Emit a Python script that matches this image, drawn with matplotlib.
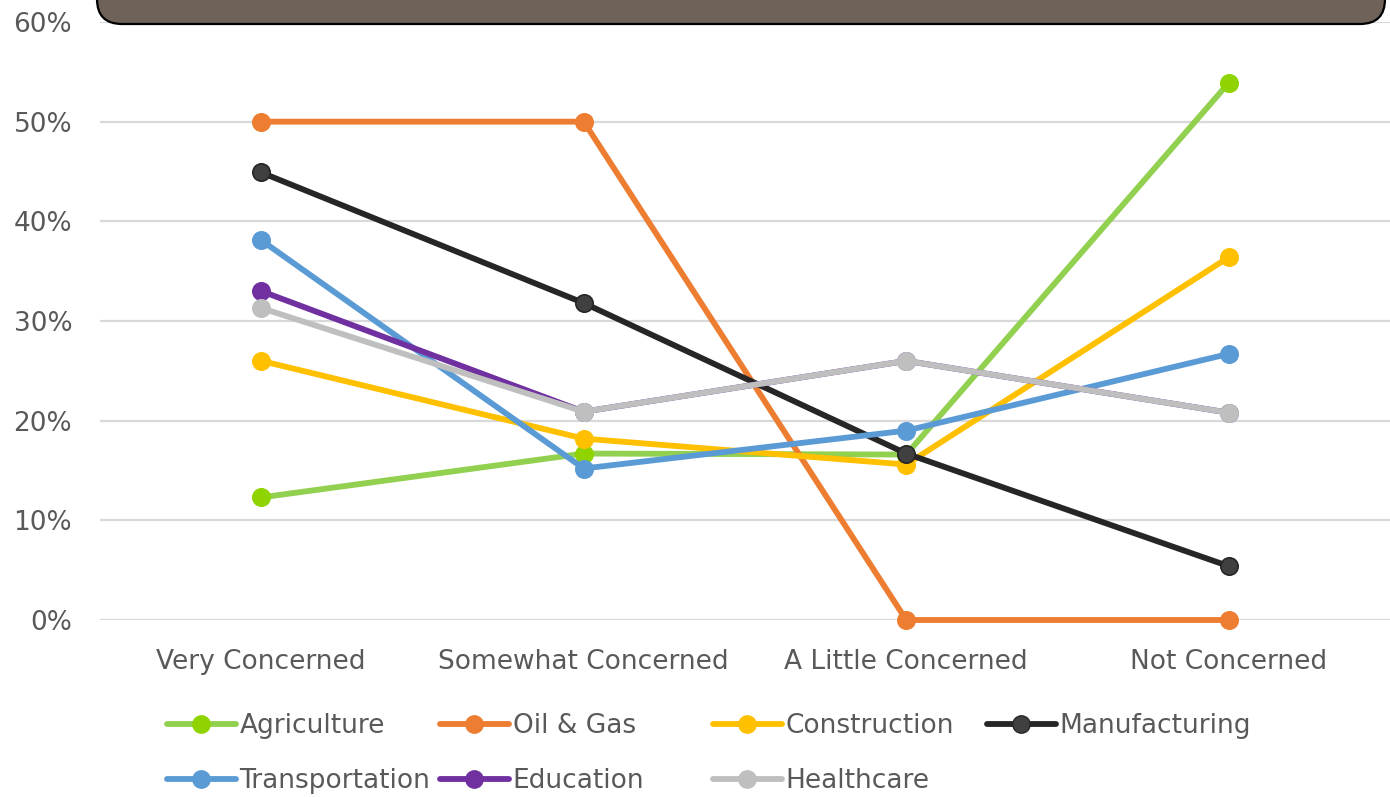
import matplotlib
matplotlib.use("Agg")
import matplotlib.pyplot as plt
from matplotlib.patches import FancyBboxPatch
from matplotlib.lines import Line2D
from matplotlib.ticker import PercentFormatter

categories = ["Very Concerned", "Somewhat Concerned", "A Little Concerned", "Not Concerned"]
agriculture = [12.3, 16.7, 16.6, 53.9]
oil_gas = [50.0, 50.0, 0.0, 0.0]
construction = [26.0, 18.2, 15.6, 36.4]
manufacturing = [44.9, 31.8, 16.7, 5.4]
transportation = [38.1, 15.2, 19.0, 26.7]
education = [33.0, 20.9, 26.0, 20.8]
healthcare = [31.3, 20.9, 26.0, 20.8]

series_names = ["Agriculture", "Oil & Gas", "Construction", "Manufacturing",
                "Transportation", "Education", "Healthcare"]
series_values = [agriculture, oil_gas, construction, manufacturing,
                 transportation, education, healthcare]
line_colors = ["#92D050", "#ED7D31", "#FFC000", "#262626", "#5B9BD5", "#7030A0", "#BFBFBF"]
marker_colors = ["#8FD400", "#ED7D31", "#FFC000", "#404040", "#5B9BD5", "#7030A0", "#BFBFBF"]
marker_edges = ["#8FD400", "#ED7D31", "#FFC000", "#262626", "#5B9BD5", "#7030A0", "#BFBFBF"]

FS = 19
LW = 4.2
MS = 12.5

W, H = 1390, 797
fig = plt.figure(figsize=(W / 100, H / 100), dpi=100)
fig.patch.set_facecolor("white")

ax = fig.add_axes([100 / W, 1 - 620 / H, 1290 / W, (620 - 22) / H])
ax.set_facecolor("white")

x = list(range(len(categories)))
for name, vals, lc, mc, me in zip(series_names, series_values, line_colors, marker_colors, marker_edges):
    ax.plot(x, vals, color=lc, lw=LW, marker="o", markersize=MS, markerfacecolor=mc,
            markeredgecolor=me, markeredgewidth=1.2, solid_capstyle="round", zorder=3,
            clip_on=False)

ax.set_xlim(-0.5, 3.5)
ax.set_ylim(0, 60)
ax.set_yticks(range(0, 61, 10))
ax.yaxis.set_major_formatter(PercentFormatter(decimals=0))
ax.set_xticks(x)
ax.set_xticklabels(categories)
ax.grid(axis="y", color="#D9D9D9", lw=1.6, zorder=0)
ax.set_axisbelow(True)
for s in ax.spines.values():
    s.set_visible(False)
ax.tick_params(axis="both", length=0, labelsize=FS, labelcolor="#595959")
ax.tick_params(axis="y", pad=20)
ax.tick_params(axis="x", pad=21)

# Title box (cut off at top)
box = FancyBboxPatch((97 / W, 1 - 24 / H), 1288 / W, 60 / H,
                     boxstyle="round,pad=0,rounding_size=0.018",
                     transform=fig.transFigure, facecolor="#6E6259",
                     edgecolor="black", lw=1.6, mutation_aspect=W / H, clip_on=False)
fig.patches.append(box)

# Legend entries placed on an Excel-like grid
col_x = [167, 440, 713, 987]
row_y = [726, 781]
for i, (name, lc, mc, me) in enumerate(zip(series_names, line_colors, marker_colors, marker_edges)):
    r, c = divmod(i, 4)
    h = Line2D([], [], color=lc, lw=LW, marker="o", markersize=MS, markerfacecolor=mc,
               markeredgecolor=me, solid_capstyle="round")
    leg = fig.legend([h], [name], loc="center left",
                     bbox_to_anchor=(col_x[c] / W, 1 - row_y[r] / H),
                     frameon=False, fontsize=FS, handlelength=2.6, handletextpad=0.15,
                     borderpad=0, borderaxespad=0)
    for t in leg.get_texts():
        t.set_color("#595959")

fig.savefig("out.png", dpi=100)
